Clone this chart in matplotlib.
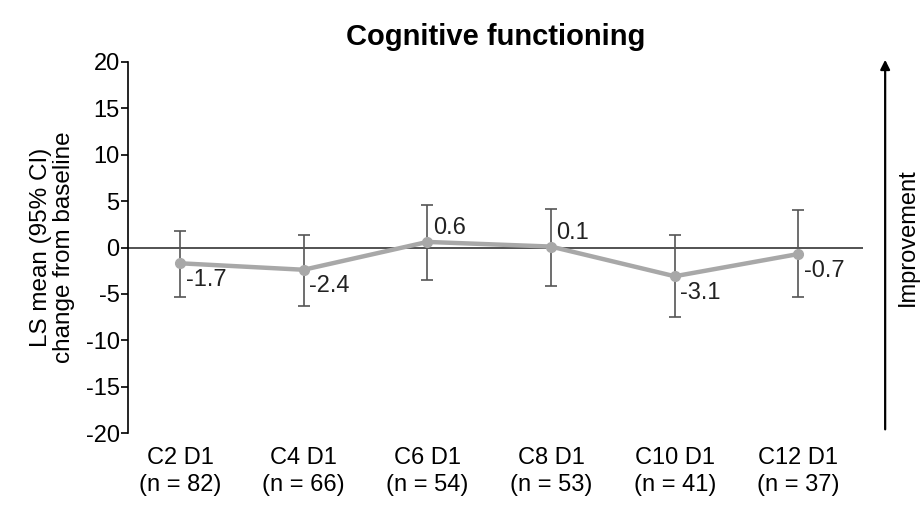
import numpy as np
import matplotlib
matplotlib.use('Agg')
import matplotlib.pyplot as plt
from matplotlib import rcParams
from matplotlib.patches import FancyArrowPatch

rcParams['font.family'] = ['Liberation Sans', 'DejaVu Sans']
rcParams['axes.unicode_minus'] = False

visits = ['C2 D1', 'C4 D1', 'C6 D1', 'C8 D1', 'C10 D1', 'C12 D1']
n_patients = [82, 66, 54, 53, 41, 37]
ls_mean = [-1.7, -2.4, 0.6, 0.1, -3.1, -0.7]
ci_low = [-5.3, -6.3, -3.5, -4.1, -7.5, -5.3]
ci_high = [1.8, 1.4, 4.6, 4.2, 1.4, 4.0]

fig = plt.figure(figsize=(9.23, 5.09), dpi=100)
ax = fig.add_axes([0.1387, 0.1493, 0.796, 0.7289])

x = np.arange(len(visits))
mean = np.array(ls_mean)
yerr = [mean - np.array(ci_low), np.array(ci_high) - mean]

ax.axhline(0, color='#444444', lw=1.3, zorder=1)
ax.errorbar(x, mean, yerr=yerr, fmt='none', ecolor='#555555', elinewidth=1.2,
            capsize=4, capthick=1.2, zorder=2)
ax.plot(x, mean, color='#a8a8a8', lw=3.2, marker='o', ms=7, zorder=3)

# value labels: above-right for gains, below-right for losses
for xi, v in zip(x, ls_mean):
    if v >= 0:
        ax.annotate(f'{v:.1f}', (xi, v), xytext=(4, 2), textcoords='offset points',
                    ha='left', va='bottom', fontsize=17, color='#222222')
    else:
        ax.annotate(f'{v:.1f}', (xi, v), xytext=(4, -4), textcoords='offset points',
                    ha='left', va='top', fontsize=17, color='#222222')

ax.set_xlim(-0.42, 5.52)
ax.set_ylim(-20, 20)
ax.set_yticks(np.arange(-20, 21, 5))
ax.set_xticks(x)
ax.set_xticklabels([f'{v}\n(n = {n})' for v, n in zip(visits, n_patients)],
                   fontsize=17, linespacing=1.3)
ax.tick_params(axis='x', length=0, pad=10)
ax.tick_params(axis='y', labelsize=17, length=5, width=1.2, pad=1)
for s in ['top', 'right', 'bottom']:
    ax.spines[s].set_visible(False)
ax.spines['left'].set_linewidth(1.2)

ax.set_ylabel('LS mean (95% CI)\nchange from baseline', fontsize=17.5, labelpad=8, linespacing=1.05)
ax.set_title('Cognitive functioning', fontsize=21, fontweight='bold', pad=12)

# improvement arrow on the right
fig.add_artist(FancyArrowPatch((0.959, 0.151), (0.959, 0.888),
               transform=fig.transFigure, arrowstyle='-|>', mutation_scale=14,
               color='black', lw=1.6))
fig.text(0.984, 0.535, 'Improvement', rotation=90, ha='center', va='center', fontsize=17)

fig.savefig('out.png', dpi=100)
